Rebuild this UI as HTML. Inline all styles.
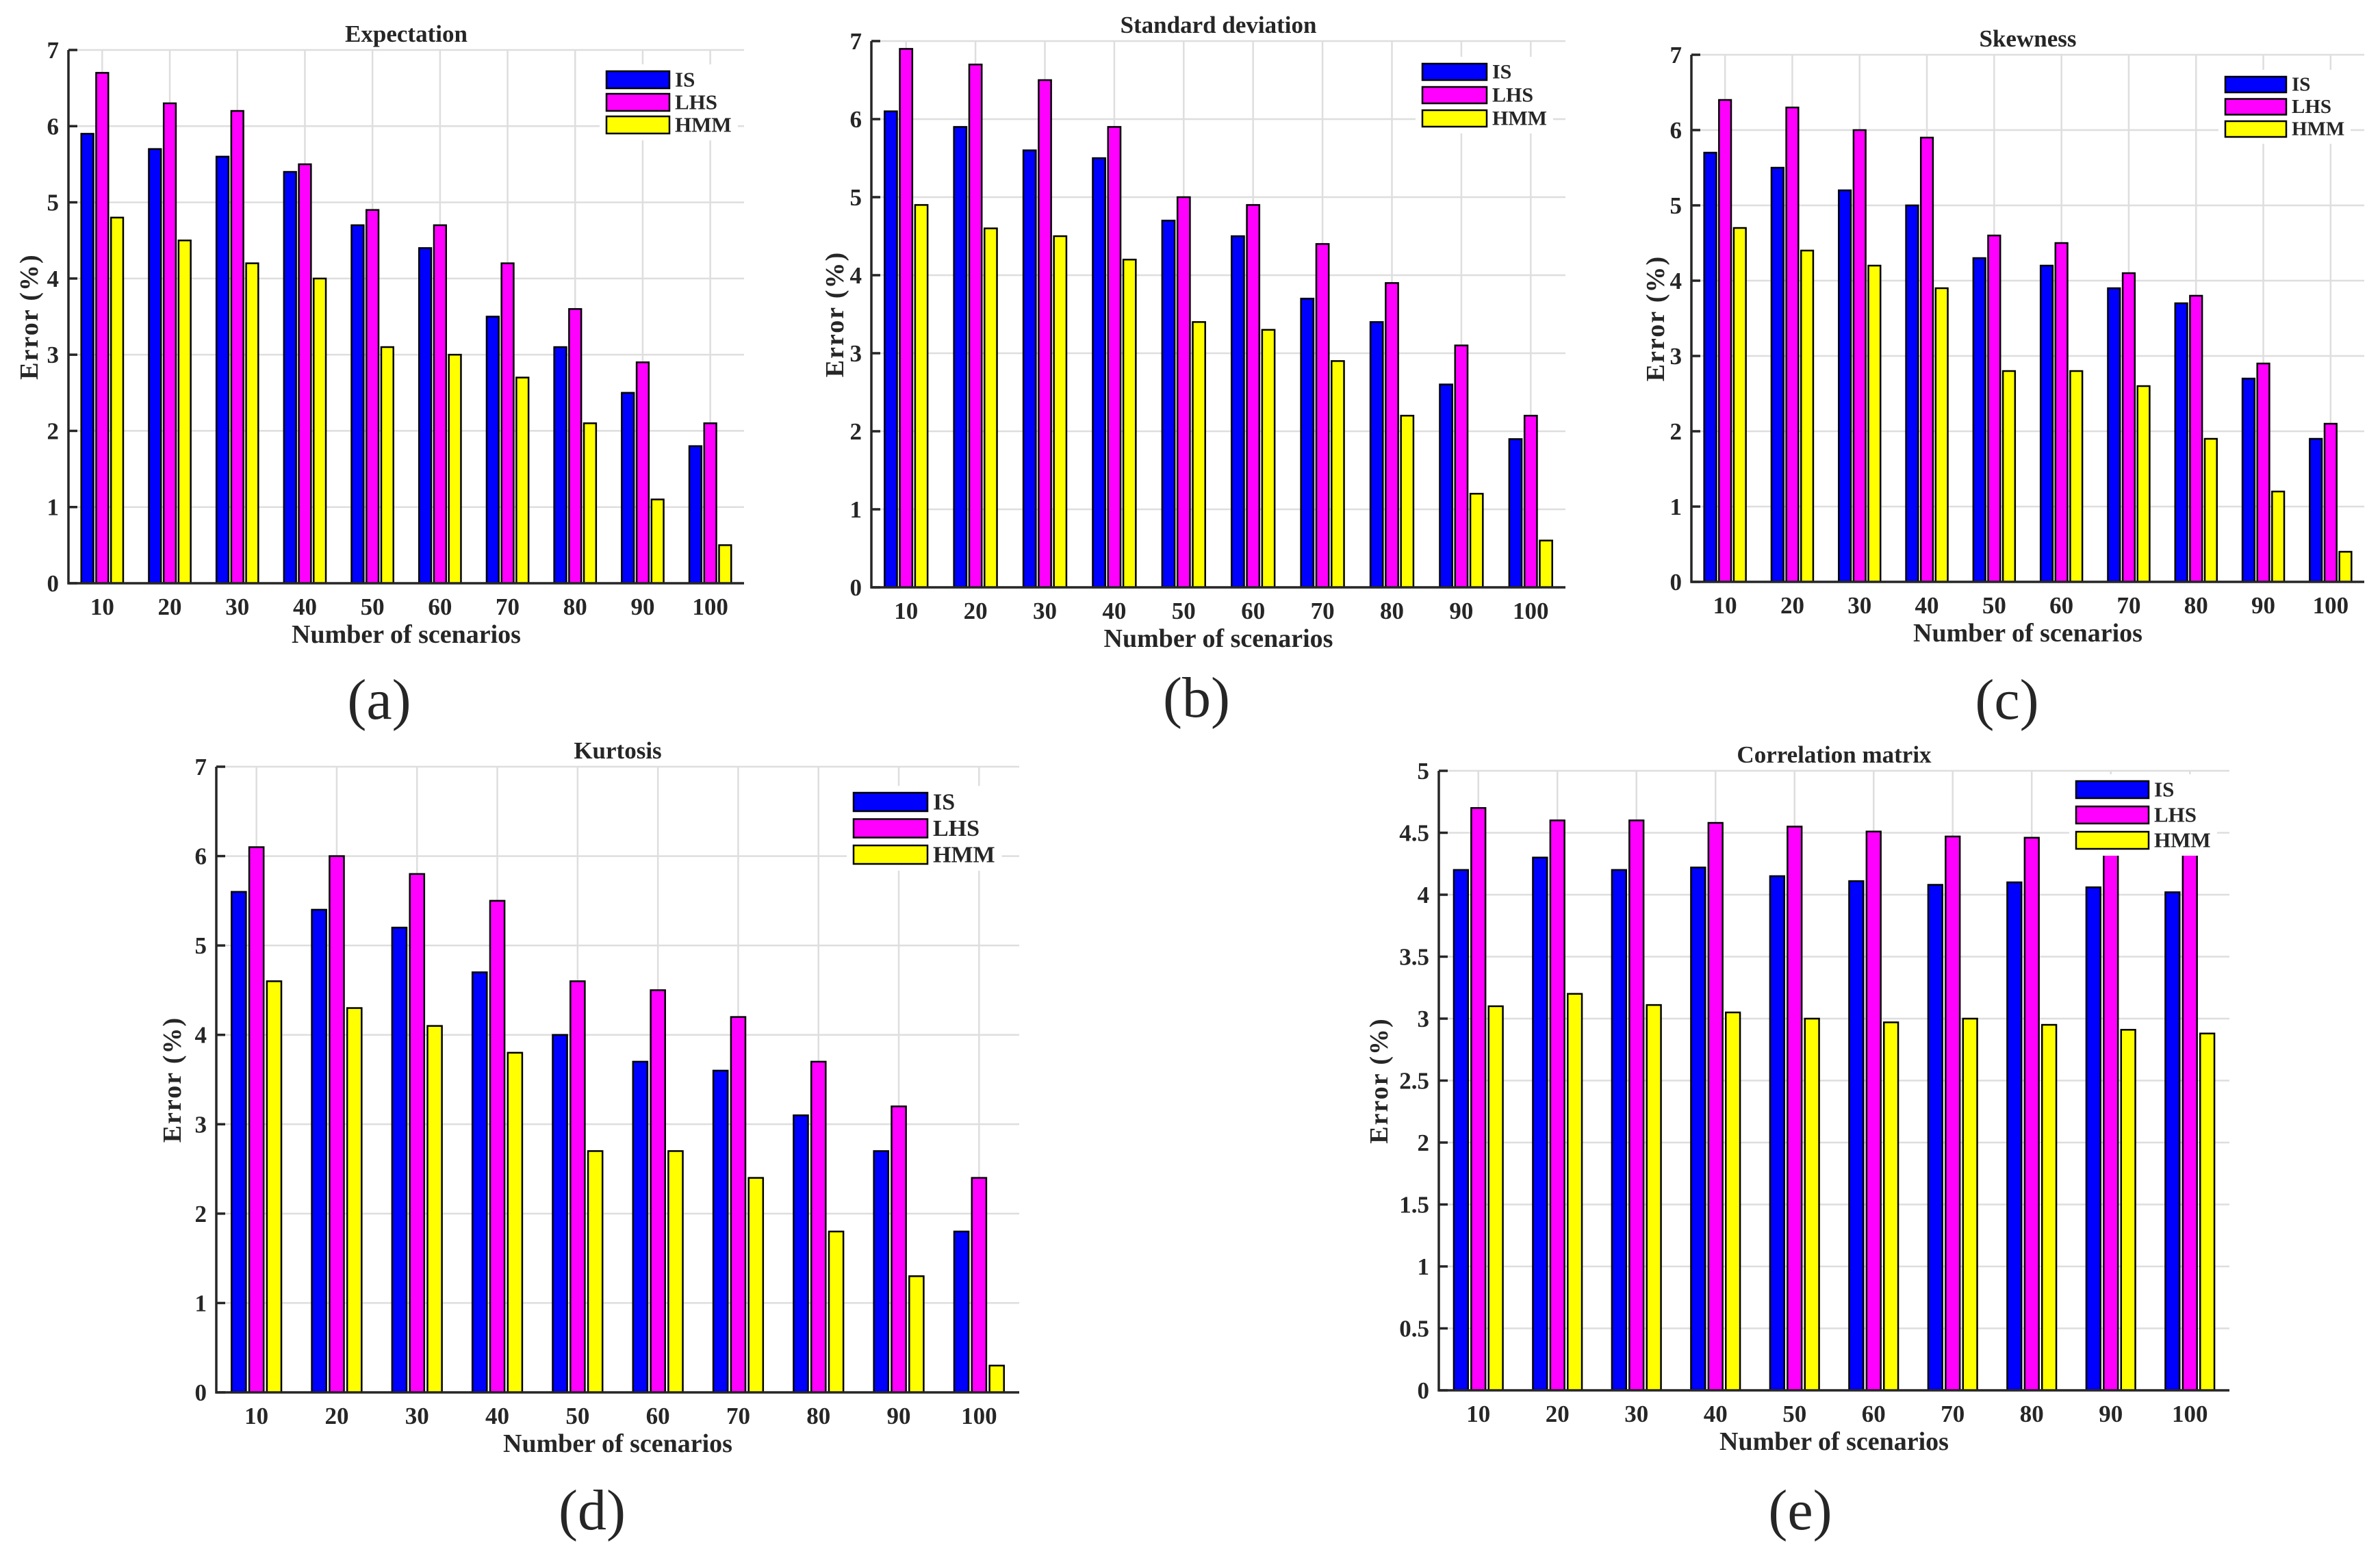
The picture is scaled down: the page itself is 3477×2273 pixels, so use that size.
<!DOCTYPE html>
<html><head><meta charset="utf-8"><style>
html,body{margin:0;padding:0;background:#fff;}
svg{display:block;}
text{font-family:"Liberation Serif",serif;fill:#262626;}
</style></head>
<body>
<svg id="fig" width="3477" height="2273" viewBox="0 0 3477 2273" xmlns="http://www.w3.org/2000/svg"></svg>
<script>
// ---- data ----
const categories = ["10","20","30","40","50","60","70","80","90","100"];
const seriesNames = ["IS","LHS","HMM"];
const expIS  = [5.9,5.7,5.6,5.4,4.7,4.4,3.5,3.1,2.5,1.8];
const expLHS = [6.7,6.3,6.2,5.5,4.9,4.7,4.2,3.6,2.9,2.1];
const expHMM = [4.8,4.5,4.2,4.0,3.1,3.0,2.7,2.1,1.1,0.5];
const stdIS  = [6.1,5.9,5.6,5.5,4.7,4.5,3.7,3.4,2.6,1.9];
const stdLHS = [6.9,6.7,6.5,5.9,5.0,4.9,4.4,3.9,3.1,2.2];
const stdHMM = [4.9,4.6,4.5,4.2,3.4,3.3,2.9,2.2,1.2,0.6];
const skwIS  = [5.7,5.5,5.2,5.0,4.3,4.2,3.9,3.7,2.7,1.9];
const skwLHS = [6.4,6.3,6.0,5.9,4.6,4.5,4.1,3.8,2.9,2.1];
const skwHMM = [4.7,4.4,4.2,3.9,2.8,2.8,2.6,1.9,1.2,0.4];
const kurIS  = [5.6,5.4,5.2,4.7,4.0,3.7,3.6,3.1,2.7,1.8];
const kurLHS = [6.1,6.0,5.8,5.5,4.6,4.5,4.2,3.7,3.2,2.4];
const kurHMM = [4.6,4.3,4.1,3.8,2.7,2.7,2.4,1.8,1.3,0.3];
const corIS  = [4.2,4.3,4.2,4.22,4.15,4.11,4.08,4.1,4.06,4.02];
const corLHS = [4.7,4.6,4.6,4.58,4.55,4.51,4.47,4.46,4.43,4.41];
const corHMM = [3.1,3.2,3.11,3.05,3.0,2.97,3.0,2.95,2.91,2.88];
const ticks7 = ["0","1","2","3","4","5","6","7"];
const ticks5 = ["0","0.5","1","1.5","2","2.5","3","3.5","4","4.5","5"];

const colors = ["#0000ff","#ff00ff","#ffff00"];
const NS = "http://www.w3.org/2000/svg";
const svg = document.getElementById("fig");
function mk(tag, attrs, parent){
  const e = document.createElementNS(NS, tag);
  for (const k in attrs) e.setAttribute(k, attrs[k]);
  (parent||svg).appendChild(e);
  return e;
}

const panels = [
  {key:"a", title:"Expectation", L:100, R:1087, T:73, B:852, ymax:7, ticks:ticks7, data:[expIS,expLHS,expHMM],
   leg:{x:886,y:104,w:92,h:25,gap:33}, lab:{x:554,y:1050}, ylx:41},
  {key:"b", title:"Standard deviation", L:1273, R:2287, T:60, B:858, ymax:7, ticks:ticks7, data:[stdIS,stdLHS,stdHMM],
   leg:{x:2078,y:93,w:94,h:24,gap:34}, lab:{x:1748,y:1047}, ylx:1218},
  {key:"c", title:"Skewness", L:2471, R:3454, T:80, B:850, ymax:7, ticks:ticks7, data:[skwIS,skwLHS,skwHMM],
   leg:{x:3251,y:112,w:89,h:23,gap:32.5}, lab:{x:2932,y:1050}, ylx:2417},
  {key:"d", title:"Kurtosis", L:316, R:1489, T:1120, B:2034, ymax:7, ticks:ticks7, data:[kurIS,kurLHS,kurHMM],
   leg:{x:1247,y:1158,w:108,h:27,gap:38.5}, lab:{x:865,y:2234}, ylx:250},
  {key:"e", title:"Correlation matrix", L:2102, R:3257, T:1126, B:2031, ymax:5, ticks:ticks5, data:[corIS,corLHS,corHMM],
   leg:{x:3033,y:1141,w:106,h:25,gap:37}, lab:{x:2630,y:2234}, ylx:2013}
];

panels.forEach(p=>{
  const g = mk("g",{});
  
  
  const n = categories.length;
  const xs = i => p.L + (i + 0.5) * (p.R - p.L) / n;
  const unit = (p.R - p.L) / n;
  const ys = v => p.B - v / p.ymax * (p.B - p.T);
  p.ticks.forEach(t=>{
    const y = ys(parseFloat(t));
    const l = mk("line",{x1:p.L,x2:p.R,y1:y,y2:y,stroke:"#dedede","stroke-width":2.5},g);
    
    
  });
  categories.forEach((c,i)=>{
    const x = xs(i);
    const l = mk("line",{x1:x,x2:x,y1:p.T,y2:p.B,stroke:"#dedede","stroke-width":2.5},g);
    
    
  });
  const bw = 0.18 * unit, off = 0.22 * unit;
  p.data.forEach((arr,s)=>{
    arr.forEach((v,i)=>{
      const cx = xs(i) + (s-1)*off;
      const y = ys(v);
      const r = mk("rect",{x:cx-bw/2,y:y,width:bw,height:p.B-y,fill:colors[s],stroke:"#000","stroke-width":2.5},g);
      
      
    });
  });
  const ax = mk("path",{d:`M${p.L},${p.T} L${p.L},${p.B} L${p.R},${p.B}`,fill:"none",stroke:"#262626","stroke-width":3.5},g);
  
  
  p.ticks.forEach(t=>{
    const y = ys(parseFloat(t));
    const tk = mk("line",{x1:p.L,x2:p.L+13,y1:y,y2:y,stroke:"#262626","stroke-width":3.5},g);
    
    
    const tx = mk("text",{x:p.L-14,y:y+12,"text-anchor":"end","font-size":35,"font-weight":"bold"},g);
    tx.textContent = t;
    
    
  });
  categories.forEach((c,i)=>{
    const tx = mk("text",{x:xs(i),y:p.B+46,"text-anchor":"middle","font-size":35,"font-weight":"bold"},g);
    tx.textContent = c;
    
    
  });
  const cx = (p.L+p.R)/2;
  const ti = mk("text",{x:cx,y:p.T-12,"text-anchor":"middle","font-size":35,"font-weight":"bold"},g);
  ti.textContent = p.title;
  
  
  const xl = mk("text",{x:cx,y:p.B+87,"text-anchor":"middle","font-size":38,"font-weight":"bold"},g);
  xl.textContent = "Number of scenarios";
  
  
  const ym = (p.T+p.B)/2;
  const yl = mk("text",{x:p.ylx+14,y:ym,"text-anchor":"middle","font-size":38,"font-weight":"bold","letter-spacing":2,transform:`rotate(-90 ${p.ylx+14} ${ym})`},g);
  yl.textContent = "Error (%)";
  
  
  const lg = p.leg;
  const fs = Math.round(lg.h*1.25);
  const bg = mk("rect",{x:lg.x-10,y:lg.y-10,width:lg.w+fs*2.9+20,height:lg.gap*2+lg.h+20,fill:"#fff"},g);
  
  
  seriesNames.forEach((nm,s)=>{
    const y = lg.y + s*lg.gap;
    const r = mk("rect",{x:lg.x,y:y,width:lg.w,height:lg.h,fill:colors[s],stroke:"#000","stroke-width":2.5},g);
    
    
    const t = mk("text",{x:lg.x+lg.w+8,y:y+lg.h*0.9,"font-size":fs,"font-weight":"bold"},g);
    t.textContent = nm;
    
    
  });
  const pl = mk("text",{x:p.lab.x,y:p.lab.y,"text-anchor":"middle","font-size":84,fill:"#000"},g);
  pl.textContent = "("+p.key+")";
  
  
});
</script>
</body></html>
